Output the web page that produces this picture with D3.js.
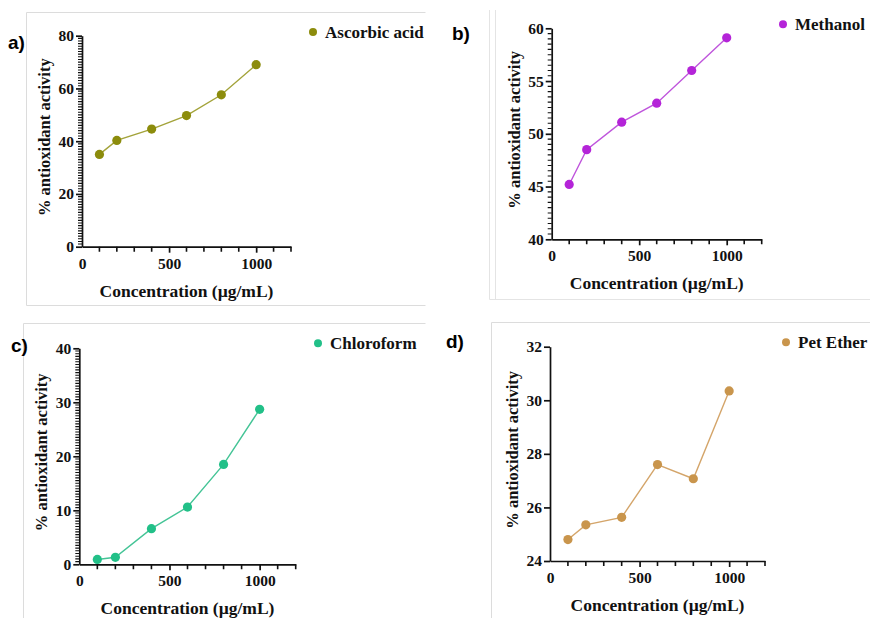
<!DOCTYPE html>
<html>
<head>
<meta charset="utf-8">
<script src="https://cdn.jsdelivr.net/npm/d3@7"></script>
<style>
  body { margin: 0; background: #fff; }
</style>
</head>
<body>
<div id="chart"></div>
<script>
// concentrations (µg/mL)
const conc = [100, 200, 400, 600, 800, 1000];
const ascorbic = [35, 40.3, 44.6, 49.7, 57.6, 69];
const methanol = [45.2, 48.5, 51.1, 52.9, 56, 59.1];
const chloroform = [0.9, 1.3, 6.6, 10.6, 18.5, 28.7];
const petEther = [24.8, 25.35, 25.63, 27.6, 27.07, 30.35];
const names = ["Ascorbic acid", "Methanol", "Chloroform", "Pet Ether"];
const colors = ["#8c8c0c", "#b424d8", "#22c088", "#c9954c"];
const lineColors = ["#a3a33a", "#bf55dc", "#44c496", "#d4a56a"];
const yDomains = [[0, 80], [40, 60], [0, 40], [24, 32]];
const yTicks = [[0, 20, 40, 60, 80], [40, 45, 50, 55, 60], [0, 10, 20, 30, 40], [24, 26, 28, 30, 32]];
const yMinor = [1, 0.5, 0.5, 0];
const xTicks = [0, 500, 1000];
const labels = ["a)", "b)", "c)", "d)"];

var svg = d3.select("#chart").append("svg")
  .attr("width", 870)
  .attr("height", 618);

// light frames around the panels
var frame = svg.append("g").attr("stroke", "#dcdcdc").attr("stroke-width", 1).attr("fill", "none");
frame.append("path").attr("d", "M26.5,12.5H425.5 M26.5,12.5V305.5 M26.5,305.5H425.5");
frame.append("path").attr("d", "M489.5,10V299.5H870 M495.5,10V299.5").attr("stroke", "#e4e4e4");
frame.append("path").attr("d", "M23.5,618V323.5H425.5");
frame.append("path").attr("d", "M491.5,618V322.5H870");

// panel placement: axis box and legend/label spots
var panels = [
  { x0: 82, x1: 291, y0: 246.7, y1: 35.7, leg: [313, 32], lab: [8, 49] },
  { x0: 551.7, x1: 761.7, y0: 239.3, y1: 28.3, leg: [783, 24.3], lab: [452, 40] },
  { x0: 79.3, x1: 295.7, y0: 564.3, y1: 348.3, leg: [318, 343.3], lab: [11, 352] },
  { x0: 550, x1: 765, y0: 561, y1: 346.7, leg: [786, 342.3], lab: [446, 348] }
];
var series = [ascorbic, methanol, chloroform, petEther];

function styleText(sel, size) {
  sel.attr("font-family", "Liberation Serif")
    .attr("font-weight", "bold")
    .attr("font-size", size)
    .attr("fill", "#111");
}

panels.forEach(function(p, i) {
  var x = d3.scaleLinear().domain([0, 1200]).range([p.x0, p.x1]);
  var y = d3.scaleLinear().domain(yDomains[i]).range([p.y0, p.y1]);
  var g = svg.append("g");

  // major axes
  var xa = g.append("g").attr("transform", "translate(0," + p.y0 + ")")
    .call(d3.axisBottom(x).tickValues(xTicks).tickFormat(d3.format("d")).tickSize(6).tickSizeOuter(0).tickPadding(5));
  var ya = g.append("g").attr("transform", "translate(" + p.x0 + ",0)")
    .call(d3.axisLeft(y).tickValues(yTicks[i]).tickFormat(d3.format("d")).tickSize(6).tickSizeOuter(0).tickPadding(2));
  [xa, ya].forEach(function(a) {
    a.attr("font-family", null).attr("font-size", null);
    a.select(".domain").attr("stroke", "#111").attr("stroke-width", 1.7);
    a.selectAll("line").attr("stroke", "#111").attr("stroke-width", 1.7);
    styleText(a.selectAll("text"), 15.5);
  });
  xa.selectAll(".tick:first-of-type line").remove();

  // minor ticks, one path per axis
  var xm = d3.range(100, 1201, 100).filter(function(v) { return v % 500 !== 0; });
  g.append("path")
    .attr("d", xm.map(function(v) { return "M" + x(v) + "," + p.y0 + "v5"; }).join(""))
    .attr("stroke", "#111")
    .attr("stroke-width", 1.6);
  if (yMinor[i] > 0) {
    var dom = yDomains[i];
    var ym = d3.range(dom[0], dom[1] + 1e-9, yMinor[i]).filter(function(v) { return yTicks[i].indexOf(v) < 0; });
    g.append("path")
      .attr("d", ym.map(function(v) { return "M" + p.x0 + "," + y(v) + "h-4"; }).join(""))
      .attr("stroke", "#111")
      .attr("stroke-width", 1.1);
  }

  // titles
  g.append("text")
    .attr("x", (p.x0 + p.x1) / 2)
    .attr("y", p.y0 + 50)
    .attr("text-anchor", "middle")
    .text("Concentration (\u00b5g/mL)")
    .call(styleText, 17.5);
  g.append("text")
    .attr("transform", "translate(" + (p.x0 - 32) + "," + ((p.y0 + p.y1) / 2 - 4) + ") rotate(-90)")
    .attr("text-anchor", "middle")
    .text("% antioxidant activity")
    .call(styleText, 16.5);

  // series
  var pts = conc.map(function(c, k) { return [c, series[i][k]]; });
  g.append("path")
    .datum(pts)
    .attr("fill", "none")
    .attr("stroke", lineColors[i])
    .attr("stroke-width", 1.4)
    .attr("d", d3.line().x(function(d) { return x(d[0]); }).y(function(d) { return y(d[1]); }));
  g.selectAll("circle.pt")
    .data(pts)
    .enter()
    .append("circle")
    .attr("class", "pt")
    .attr("cx", function(d) { return x(d[0]); })
    .attr("cy", function(d) { return y(d[1]); })
    .attr("r", 4.6)
    .attr("fill", colors[i]);

  // legend
  g.append("circle").attr("cx", p.leg[0]).attr("cy", p.leg[1]).attr("r", 4).attr("fill", colors[i]);
  g.append("text")
    .attr("x", p.leg[0] + 12)
    .attr("y", p.leg[1] + 5.5)
    .text(names[i])
    .call(styleText, 17);

  // panel letter
  svg.append("text")
    .attr("x", p.lab[0]).attr("y", p.lab[1])
    .attr("font-family", "Liberation Sans")
    .attr("font-weight", "bold")
    .attr("font-size", 19)
    .text(labels[i]);
});
</script>
</body>
</html>
